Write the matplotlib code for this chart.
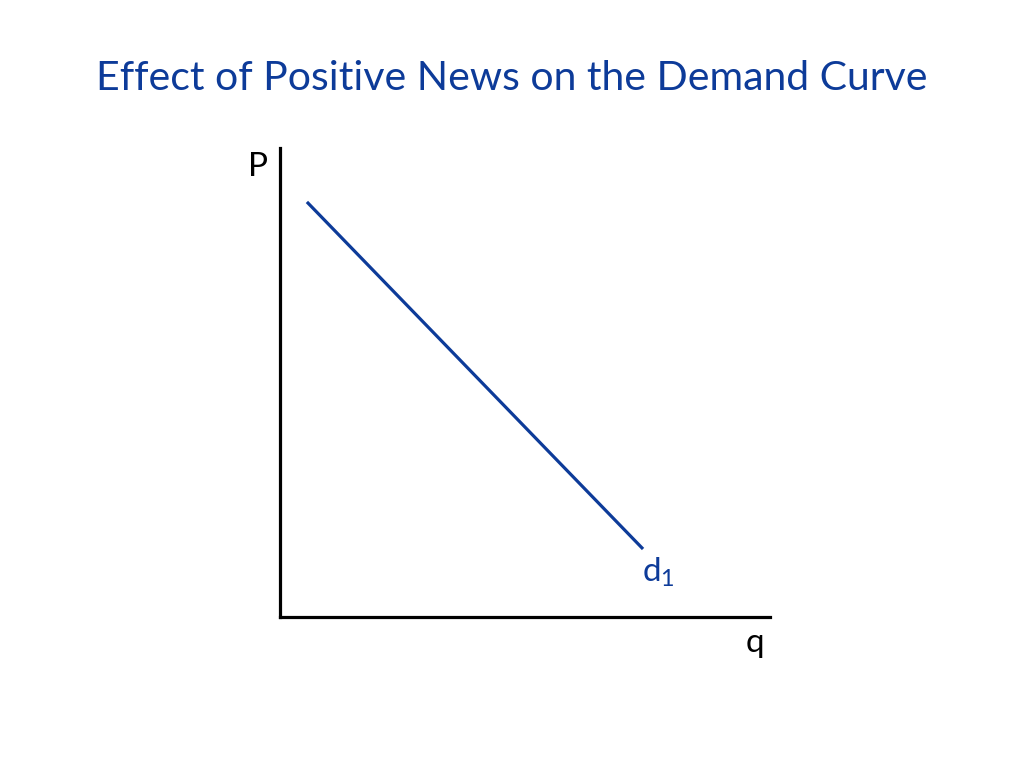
import matplotlib
matplotlib.use('Agg')
import matplotlib.pyplot as plt

# demand curve d1 (q, P) in arbitrary units, axes run 0..10
q_d1 = [0.55, 7.41]
p_d1 = [8.85, 1.45]

title = "Effect of Positive News on the Demand Curve"
blue = '#0d3b99'

plt.rcParams['font.family'] = ['Lato', 'DejaVu Sans']
plt.rcParams['mathtext.fontset'] = 'custom'
plt.rcParams['mathtext.rm'] = 'Lato'
plt.rcParams['mathtext.it'] = 'Lato'

fig = plt.figure(figsize=(10.24, 7.68), dpi=100)
fig.text(0.5, 0.898, title, ha='center', va='center', fontsize=29.5, color=blue)

ax = fig.add_axes([0.2734, 0.1966, 0.4785, 0.6107])
ax.set_xlim(0, 10)
ax.set_ylim(0, 10)
for s in ['top', 'right']:
    ax.spines[s].set_visible(False)
for s in ['left', 'bottom']:
    ax.spines[s].set_linewidth(2.3)
    ax.spines[s].set_color('black')
ax.set_xticks([])
ax.set_yticks([])
ax.patch.set_alpha(0)

ax.plot(q_d1, p_d1, color=blue, linewidth=2.3, solid_capstyle='butt')

# labels
ax.text(q_d1[1] - 0.02, p_d1[1] - 0.15, r'd$_\mathrm{1}$', color=blue, fontsize=24,
        ha='left', va='top')
ax.text(-0.45, 9.6, 'P', fontsize=24, ha='center', va='center')
ax.text(9.7, -0.55, 'q', fontsize=24, ha='center', va='center')

fig.savefig('out.png', dpi=100)
